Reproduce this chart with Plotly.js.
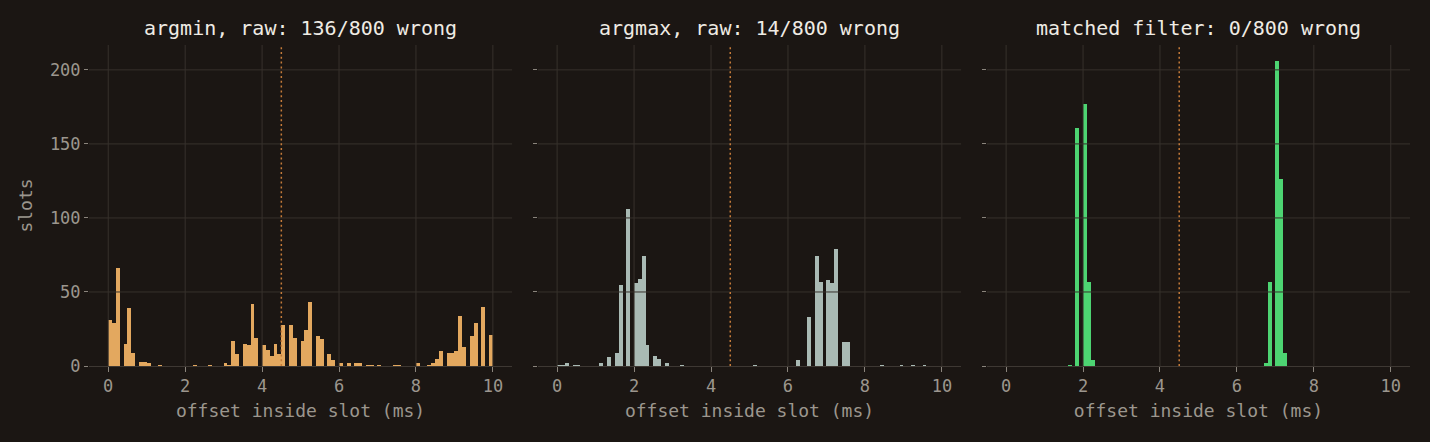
<!DOCTYPE html>
<html><head><meta charset="utf-8">
<script src="https://cdn.plot.ly/plotly-3.0.1.min.js"></script>
<style>html,body{margin:0;padding:0;background:#1b1613;}#chart{width:1430px;height:442px;}</style>
</head><body><div id="chart"></div>
<script>
// histogram bin width (ms); bins start at 0
const binWidthMs = 0.1;
// slot counts per 0.1 ms bin, 0..10 ms
const argminCounts = [
  31,29,66,0,15,39,9,0,3,3,
  2,0,0,1,0,0,0,0,0,0,
  0,0,1,0,0,0,1,0,0,0,
  2,1,17,8,0,15,14,42,19,0,
  14,11,7,15,8,28,0,28,19,0,
  17,24,43,0,20,18,0,8,4,0,
  2,0,2,0,2,2,0,1,1,0,
  1,0,0,0,1,1,0,0,0,0,
  2,0,0,1,2,5,10,0,9,9,
  10,34,13,0,20,29,0,40,0,21
];
const argmaxCounts = [
  1,1,2,0,1,1,0,0,0,0,
  0,2,0,6,0,9,55,0,106,0,
  56,59,74,14,0,7,5,0,2,0,
  0,0,1,0,0,0,0,0,0,0,
  0,0,0,0,0,0,0,0,0,0,
  0,1,0,0,0,0,0,0,0,0,
  0,0,4,0,0,33,0,74,57,0,
  58,56,79,0,16,16,0,0,0,0,
  0,0,0,0,1,0,0,0,0,1,
  0,0,1,0,0,1,0,0,0,0
];
const matchedCounts = [
  0,0,0,0,0,0,0,0,0,0,
  0,0,0,0,0,0,1,0,161,0,
  177,57,4,0,0,0,0,0,0,0,
  0,0,0,0,0,0,0,0,0,0,
  0,0,0,0,0,0,0,0,0,0,
  0,0,0,0,0,0,0,0,0,0,
  0,0,0,0,0,0,0,2,57,0,
  206,126,9,0,0,0,0,0,0,0,
  0,0,0,0,0,0,0,0,0,0,
  0,0,0,0,0,0,0,0,0,0
];
const panelTitles = ["argmin, raw: 136/800 wrong", "argmax, raw: 14/800 wrong", "matched filter: 0/800 wrong"];
const xTitle = "offset inside slot (ms)";
const yTitle = "slots";
const xTickVals = [0, 2, 4, 6, 8, 10];
const yTickVals = [0, 50, 100, 150, 200];
const thresholdMs = 4.5;

const BG = "#1b1613";
const GRID = "#37312c";
const TICKTXT = "#9c968e";
const FONT = "DejaVu Sans Mono";
const colors = ["#e3a85f", "#a9bab4", "#4dd472"];
const series = [argminCounts, argmaxCounts, matchedCounts];
const domains = [[0, 0.3203], [0.3398, 0.6602], [0.6797, 1]];
const sfx = ["", "2", "3"];

const traces = series.map((counts, p) => ({
  type: "bar",
  x: counts.map((_, i) => (i + 0.5) * binWidthMs),
  y: counts,
  width: binWidthMs,
  marker: {color: colors[p], line: {width: 0}},
  xaxis: "x" + sfx[p],
  yaxis: "y" + sfx[p],
  hoverinfo: "x+y",
  showlegend: false
}));

const layout = {
  width: 1430, height: 442,
  paper_bgcolor: BG, plot_bgcolor: BG,
  margin: {l: 89, r: 19.5, t: 45, b: 76},
  bargap: 0,
  font: {family: FONT, color: TICKTXT, size: 17},
  shapes: [], annotations: []
};

sfx.forEach((s, p) => {
  layout["xaxis" + s] = {
    domain: domains[p], range: [-0.5, 10.5], anchor: "y" + s,
    tickmode: "array", tickvals: xTickVals,
    ticks: "outside", ticklen: 5, tickwidth: 1, tickcolor: "#8a847c",
    showgrid: false, zeroline: false,
    showline: true, linecolor: "#3e3833", linewidth: 1,
    layer: "above traces",
    tickfont: {family: FONT, size: 17, color: TICKTXT},
    title: {text: xTitle, font: {family: FONT, size: 18, color: TICKTXT}, standoff: 8},
    fixedrange: true
  };
  layout["yaxis" + s] = {
    domain: [0, 1], range: [0, 216.8], anchor: "x" + s,
    tickmode: "array", tickvals: yTickVals,
    ticks: "outside", ticklen: 4, tickwidth: 1, tickcolor: "#8a847c",
    showticklabels: p === 0,
    showgrid: false, zeroline: false, showline: false,
    tickfont: {family: FONT, size: 17, color: TICKTXT},
    title: p === 0 ? {text: yTitle, font: {family: FONT, size: 18, color: TICKTXT}, standoff: 12} : {text: ""},
    fixedrange: true
  };
  // gridlines drawn above bars
  xTickVals.forEach(v => layout.shapes.push({
    type: "line", layer: "above", xref: "x" + s, yref: "y" + s + " domain",
    x0: v, x1: v, y0: 0, y1: 1, line: {color: GRID, width: 1}
  }));
  yTickVals.filter(v => v > 0).forEach(v => layout.shapes.push({
    type: "line", layer: "above", xref: "x" + s + " domain", yref: "y" + s,
    x0: 0, x1: 1, y0: v, y1: v, line: {color: GRID, width: 1}
  }));
  layout.shapes.push({
    type: "line", layer: "above", xref: "x" + s, yref: "y" + s + " domain",
    x0: thresholdMs, x1: thresholdMs, y0: 0, y1: 1,
    line: {color: "#c57b3a", width: 1.5, dash: "2px,2.8px"}
  });
  layout.annotations.push({
    xref: "x" + s + " domain", yref: "paper", x: 0.5, y: 1.053,
    xanchor: "center", yanchor: "middle", showarrow: false,
    text: panelTitles[p], font: {family: FONT, size: 20, color: "#efebe4"}
  });
});

Plotly.newPlot("chart", traces, layout, {displayModeBar: false, staticPlot: true});
</script></body></html>
